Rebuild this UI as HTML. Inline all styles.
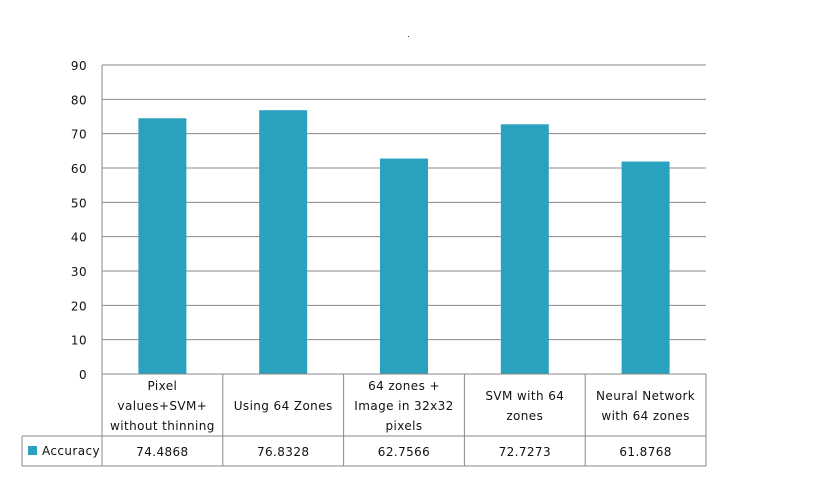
<!DOCTYPE html>
<html><head><meta charset="utf-8"><style>
body{margin:0;background:#fff;width:819px;height:472px;overflow:hidden}
svg text{font-family:"DejaVu Sans","Liberation Sans",sans-serif;font-size:12px;fill:#111;letter-spacing:0.4px}
</style></head><body>
<svg width="819" height="472" xmlns="http://www.w3.org/2000/svg">
<rect x="408" y="36" width="1" height="1" fill="#336"/>
<g id="grid"></g><g id="bars"></g><g id="table"></g><g id="yticks"></g>
</svg>
<script>
const categories=[["Pixel","values+SVM+","without thinning"],["Using 64 Zones"],["64 zones +","Image in 32x32","pixels"],["SVM with  64","zones"],["Neural Network","with 64 zones"]];
const values=[74.4868,76.8328,62.7566,72.7273,61.8768];
const valueLabels=["74.4868","76.8328","62.7566","72.7273","61.8768"];
const yTicks=[0,10,20,30,40,50,60,70,80,90];
const NS="http://www.w3.org/2000/svg";
const x0=102,x1=706,yTop=65,yBot=374,ymax=90;
const cw=(x1-x0)/categories.length;
const y=v=>yBot-(v/ymax)*(yBot-yTop);
function mk(t,a,p){const e=document.createElementNS(NS,t);for(const k in a)e.setAttribute(k,a[k]);p.appendChild(e);return e;}
const grid=document.getElementById('grid'),bars=document.getElementById('bars'),tab=document.getElementById('table'),yt=document.getElementById('yticks');
yTicks.forEach(v=>{
 const l=mk('line',{x1:x0,x2:x1,y1:y(v),y2:y(v),stroke:'#888','stroke-width':1},grid);
 
 
 const t=mk('text',{x:87,y:y(v)+5,'text-anchor':'end'},yt);t.textContent=v;
 
 
});
const ax=mk('line',{x1:x0,x2:x0,y1:yTop,y2:yBot,stroke:'#888'},grid);


values.forEach((v,i)=>{
 const cx=x0+cw*(i+0.5);
 const r=mk('rect',{x:cx-24,y:y(v),width:48,height:yBot-y(v),fill:'#2aa1be'},bars);
 
 
});
const tTop=374,tMid=436,tBot=466,tLeft=22;
const st={stroke:'#888','stroke-width':1};
mk('line',Object.assign({x1:x0,x2:x1,y1:tTop,y2:tTop},st),tab);
mk('line',Object.assign({x1:tLeft,x2:x1,y1:tMid,y2:tMid},st),tab);
mk('line',Object.assign({x1:tLeft,x2:x1,y1:tBot,y2:tBot},st),tab);
mk('line',Object.assign({x1:tLeft,x2:tLeft,y1:tMid,y2:tBot},st),tab);
for(let i=0;i<=categories.length;i++){const xx=x0+cw*i;mk('line',Object.assign({x1:xx,x2:xx,y1:tTop,y2:tBot},st),tab);}
categories.forEach((lines,i)=>{
 const cx=x0+cw*(i+0.5);
 const n=lines.length, cy=(tTop+tMid)/2;
 lines.forEach((s,j)=>{
  const t=mk('text',{x:cx,y:cy+(j-(n-1)/2)*20+5,'text-anchor':'middle'},tab);t.textContent=s;
  
  
 });
 const vt=mk('text',{x:cx,y:tMid+20,'text-anchor':'middle'},tab);vt.textContent=valueLabels[i];
 
 
});
const sw=mk('rect',{x:28,y:446,width:9,height:9,fill:'#2aa1be'},tab);


const lt=mk('text',{x:42,y:455},tab);lt.textContent='Accuracy';


</script>
</body></html>
